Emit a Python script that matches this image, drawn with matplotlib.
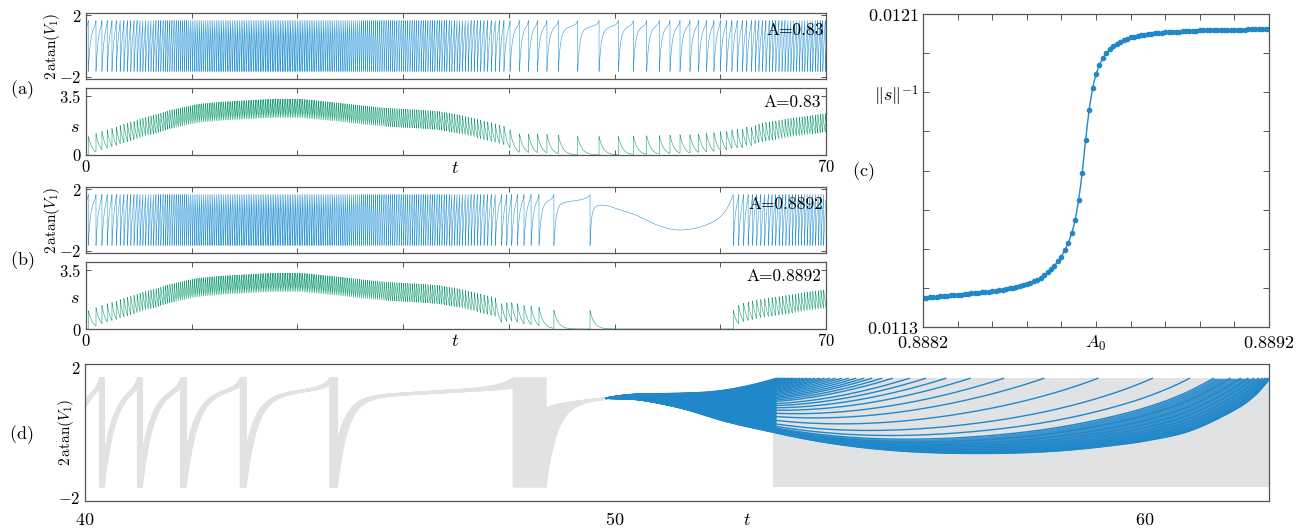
import numpy as np
import matplotlib.pyplot as plt

plt.rcParams['mathtext.fontset'] = 'cm'
plt.rcParams['font.family'] = 'serif'
plt.rcParams['font.serif'] = ['DejaVu Serif']

BLUE = '#2087c9'
LIGHT_BLUE = '#3197d6'
GREEN = '#1b9e77'
GRAY = '#e1e2e4'
SPINE = '#555555'
TOP, BOT = 1.66, -1.66          # levels of 2 atan(V1) at spike / reset

# ---------------- values ----------------
# inter-spike intervals (ISI) along the fast spiking stretch at the start
pre_t = [0.2, 1, 2, 3, 5, 7.5, 10, 12.5, 17, 20, 23.5, 28, 31, 33, 35, 36.5, 38, 39.5]
pre_isi = [0.73, 0.55, 0.45, 0.36, 0.27, 0.21, 0.18, 0.17, 0.16, 0.16, 0.175,
           0.2, 0.21, 0.22, 0.25, 0.29, 0.35, 0.45]

# (a) A = 0.83 : spike times where they can be told apart, then ISI knots
a_sparse = [40.11, 41.0, 41.85, 42.7, 43.6, 44.68, 46.51, 48.53, 50.36, 51.77,
            53.04, 54.23, 55.24, 56.19, 57.13, 57.95, 58.7, 59.4, 60.0, 60.6,
            61.1, 61.6, 62.1, 62.5]
a_post_t = [62.5, 63, 66, 70.5]
a_post_isi = [0.45, 0.35, 0.28, 0.22]

# (b) A = 0.8892
b_sparse = [39.32, 39.8, 40.27, 40.8, 41.43, 42.1, 42.85, 44.26, 47.68]
b_quiet_t = [47.68, 47.75, 47.85, 48.0, 48.3, 48.8, 49.5, 50.2, 51.2, 52.1, 53.0,
             54.0, 55.24, 56.2, 57.14, 58.0, 59.03, 59.7, 60.29, 60.8, 61.23]
b_quiet_v = [-1.66, -0.6, 0.2, 0.65, 0.9, 0.97, 0.9, 0.73, 0.52, 0.3, 0.0,
             -0.32, -0.58, -0.65, -0.6, -0.47, -0.22, 0.05, 0.42, 0.95, 1.66]
b_post_t = [61.23, 62.5, 64, 66, 68, 70.5]
b_post_isi = [0.5, 0.42, 0.36, 0.31, 0.27, 0.24]

s_jump, s_tau = 1.1, 0.4        # rise of s per spike, decay time

# (c) ||s||^{-1} against A
c_A = np.linspace(0.8882, 0.8892, 101)
c_vals = [0.011374, 0.011375, 0.011376, 0.011377, 0.011377, 0.011378, 0.011379, 0.011380,
          0.011381, 0.011382, 0.011383, 0.011383, 0.011384, 0.011385, 0.011386, 0.011387,
          0.011388, 0.011389, 0.011389, 0.011390,
          0.011392, 0.011393, 0.011395, 0.011395, 0.011397, 0.011399, 0.011400, 0.011402,
          0.011405, 0.011407,
          0.011410, 0.011413, 0.011417, 0.011421, 0.011426, 0.011432, 0.011440, 0.011448,
          0.011457, 0.011468,
          0.011480, 0.011496, 0.011515, 0.011540, 0.011574, 0.011625, 0.011693, 0.011778,
          0.011855, 0.011910,
          0.011947, 0.011970, 0.011987, 0.012000, 0.012010, 0.012017, 0.012023, 0.012029,
          0.012033, 0.012036,
          0.012040, 0.012042, 0.012044, 0.012046, 0.012047, 0.012049, 0.012050, 0.012051,
          0.012052, 0.012052,
          0.012053, 0.012054, 0.012054, 0.012055, 0.012055, 0.012056, 0.012056, 0.012057,
          0.012057, 0.012057, 0.012058, 0.012058, 0.012058, 0.012058, 0.012059, 0.012059,
          0.012059, 0.012059, 0.012060, 0.012060, 0.012060, 0.012060, 0.012060, 0.012060,
          0.012061, 0.012061, 0.012061, 0.012061, 0.012061, 0.012061, 0.012061]

# (d) grey band: spike times and their spread over the band
d_gray_spikes = [39.62, 40.30, 41.01, 41.83, 42.95, 44.64, 48.10]
d_gray_spread = [0.06, 0.06, 0.07, 0.08, 0.09, 0.12, 0.60]
d_join_t = [48.1, 48.7, 49.3, 49.85]
d_join_v = [0.80, 0.85, 0.95, 1.05]
d_dense = [53.0, 62.37]
# (d) blue fan: lower edge and the times at which each curve reaches the top
d_low_t = [49.85, 50.48, 51.28, 52.08, 52.88, 53.68, 54.48, 55.27, 56.07, 56.87,
           57.67, 58.47, 59.27, 60.07, 60.87, 61.66, 62.07, 62.37]
d_low_v = [1.05, 1.0, 0.74, 0.35, 0.05, -0.22, -0.42, -0.55, -0.62, -0.64,
           -0.62, -0.55, -0.42, -0.24, 0.06, 0.66, 1.12, 1.66]
d_fan_T = [53.05, 53.08, 53.11, 53.14, 53.17, 53.21, 53.25, 53.29, 53.34, 53.38,
           53.43, 53.49, 53.55, 53.62, 53.69, 53.77, 53.86, 53.95, 54.05, 54.16,
           54.28, 54.41, 54.55, 54.70, 54.85, 55.04, 55.24, 55.56, 55.87, 56.25,
           56.71, 57.34, 58.10, 59.12, 60.15, 60.85, 61.30, 61.61, 61.81, 61.95,
           62.06, 62.15, 62.22, 62.27, 62.31, 62.34, 62.36]


def smooth(kt, kv, n=24):
    # Catmull-Rom curve through the read points
    p = np.column_stack([kt, kv]).astype(float)
    p = np.vstack([2 * p[0] - p[1], p, 2 * p[-1] - p[-2]])
    u = np.linspace(0, 1, n, endpoint=False)[:, None]
    out = []
    for i in range(1, len(p) - 2):
        p0, p1, p2, p3 = p[i - 1], p[i], p[i + 1], p[i + 2]
        out.append(0.5 * (2 * p1 + (-p0 + p2) * u + (2 * p0 - 5 * p1 + 4 * p2 - p3) * u ** 2
                          + (-p0 + 3 * p1 - 3 * p2 + p3) * u ** 3))
    out.append(p[-2][None, :])
    out = np.vstack(out)
    return out[:, 0], out[:, 1]


def gen_spikes(t_first, t_stop, kt, kisi):
    out = [t_first]
    while True:
        nxt = out[-1] + np.interp(out[-1], kt, kisi)
        if nxt >= t_stop:
            return out
        out.append(nxt)


def rise(u, dur):
    g = 1 - np.exp(-u * dur / 0.2)
    g = g / g[-1]
    f = 0.82 * g + 0.10 * u + 0.08 * u ** 12
    return BOT + (TOP - BOT) * f


def v_trace(spikes):
    ts, vs = [], []
    for ta, tb in zip(spikes[:-1], spikes[1:]):
        n = max(8, int((tb - ta) / 0.004))
        u = np.linspace(0, 1, n)
        ts.append(ta + u * (tb - ta))
        vs.append(rise(u, tb - ta))
    return np.concatenate(ts), np.concatenate(vs)


def s_trace(spikes, t_end):
    spikes = [t for t in spikes if t >= 0]
    ts, vs = [np.array([0.0])], [np.array([0.0])]
    s = 0.0
    for k, tk in enumerate(spikes):
        tn = spikes[k + 1] if k + 1 < len(spikes) else t_end
        t = np.linspace(tk, tn, max(8, int((tn - tk) / 0.004)))
        seg = (s + s_jump) * np.exp(-(t - tk) / s_tau)
        ts += [np.array([tk]), t]
        vs += [np.array([s]), seg]
        s = seg[-1]
    return np.concatenate(ts), np.concatenate(vs)


# ---------------- build traces ----------------
a_pre = gen_spikes(-0.51, a_sparse[0] - 0.35, pre_t, pre_isi)
a_post = gen_spikes(a_sparse[-1], 71, a_post_t, a_post_isi)
a_spikes = a_pre + a_sparse + a_post[1:]
aV_t, aV_v = v_trace(a_spikes)
aS_t, aS_v = s_trace(a_spikes, 70)

b_pre = gen_spikes(-0.51, b_sparse[0] - 0.3, pre_t, pre_isi)
b_post = gen_spikes(b_quiet_t[-1], 71, b_post_t, b_post_isi)
t1, v1 = v_trace(b_pre + b_sparse)
qt, qv = smooth(b_quiet_t, b_quiet_v)
t2, v2 = v_trace(b_post)
bV_t = np.concatenate([t1, qt, t2])
bV_v = np.concatenate([v1, qv, v2])
bS_t, bS_v = s_trace(b_pre + b_sparse + b_post, 70)

# ---------------- figure ----------------
W, H = 1303, 531
fig = plt.figure(figsize=(W / 100, H / 100), dpi=100)


def box(l, t, r, b):
    return fig.add_axes([l / W, 1 - b / H, (r - l) / W, (b - t) / H])


def ftext(x, y, s, **kw):
    fig.text(x / W, 1 - y / H, s, ha='center', va='center', **kw)


def style(ax, length=3.5):
    for sp in ax.spines.values():
        sp.set_color(SPINE)
        sp.set_linewidth(0.9)
    ax.tick_params(direction='in', top=True, right=True, length=length, width=0.7,
                   color=SPINE, labelsize=12, pad=3)


def top_panel(ax, show_x):
    ax.set_xlim(0, 70)
    ax.set_xticks(range(0, 71, 10))
    if show_x:
        ax.set_xticklabels(['$0$'] + [''] * 6 + ['$70$'])
    else:
        ax.set_xticklabels([])
    style(ax)


for (t, v, s_t, s_v, y0, lab) in [(aV_t, aV_v, aS_t, aS_v, 13, '0.83'),
                                  (bV_t, bV_v, bS_t, bS_v, 187, '0.8892')]:
    axv = box(86, y0, 826, y0 + 66)
    axv.plot(t, v, color=LIGHT_BLUE, lw=0.4)
    axv.set_ylim(-2.15, 2.15)
    axv.set_yticks([-2, 2])
    axv.set_yticklabels(['$-2$', '$2$'])
    top_panel(axv, False)
    axv.text(0.997, 0.74, 'A=' + lab, transform=axv.transAxes, family='cmr10',
             ha='right', va='center', fontsize=12.5)

    axs = box(86, y0 + 75, 826, y0 + 142)
    axs.plot(s_t, s_v, color=GREEN, lw=0.4)
    axs.set_ylim(0, 4)
    axs.set_yticks([0, 3.5])
    axs.set_yticklabels(['$0$', '$3.5$'])
    top_panel(axs, True)
    axs.text(0.993, 0.78, 'A=' + lab, transform=axs.transAxes, family='cmr10',
             ha='right', va='center', fontsize=12.5)

ftext(52, 46, r'$2\,\mathrm{atan}(V_1)$', rotation=90, fontsize=11)
ftext(52, 220, r'$2\,\mathrm{atan}(V_1)$', rotation=90, fontsize=11)
ftext(75, 127, '$s$', fontsize=13)
ftext(75, 298, '$s$', fontsize=13)
ftext(455, 168, '$t$', fontsize=13)
ftext(455, 341, '$t$', fontsize=13)
ftext(22, 90, r'$\mathrm{(a)}$', fontsize=13)
ftext(22, 261, r'$\mathrm{(b)}$', fontsize=13)

# (c)
axc = box(923, 14, 1269, 327)
axc.plot(c_A, c_vals, color=BLUE, lw=1.0, marker='o', ms=3)
axc.set_xlim(0.8882, 0.8892)
axc.set_ylim(0.0113, 0.0121)
axc.set_xticks(np.linspace(0.8882, 0.8892, 11))
axc.set_xticklabels(['$0.8882$', '', '', '', '', '$A_0$', '', '', '', '', '$0.8892$'])
axc.set_yticks(np.linspace(0.0113, 0.0121, 9))
axc.set_yticklabels(['$0.0113$', '', '', '', '', '', r'$\|s\|^{-1}$', '', '$0.0121$'])
style(axc, 4)
axc.tick_params(labelsize=13)
axc.tick_params(axis='x', pad=5)
ftext(863, 172, r'$\mathrm{(c)}$', fontsize=13)

# (d)
axd = box(84.5, 364, 1269, 501)
axd.fill_between(d_dense, BOT, TOP, color=GRAY, lw=0, zorder=1)
N = 25
for j in range(N):
    q = j / (N - 1)
    sp = [t + q * d for t, d in zip(d_gray_spikes, d_gray_spread)]
    gt, gv = v_trace(sp)
    tj = np.linspace(sp[-1], d_join_t[-1], 120)
    cj = np.interp(tj, d_join_t, d_join_v)
    vj = cj - (cj - BOT) * np.exp(-(tj - sp[-1]) / 0.2)
    axd.plot(np.concatenate([gt, tj]), np.concatenate([gv, vj]), color=GRAY,
             lw=1.6, zorder=1)

lt, lv = smooth(d_low_t, d_low_v)
t0, t_end = d_low_t[0], d_low_t[-1]


def E(t):
    return 1 / (t_end - t) - 1 / (t_end - t0)


def fan_curve(T, n=400):
    t = np.linspace(t0, T, n)
    low = np.interp(t, lt, lv)
    frac = (E(t) / E(T)) ** 0.7
    return t, low + (TOP - low) * frac


# solid parts of the fan
tu, yu = fan_curve(d_fan_T[0])
axd.fill_between(tu, np.interp(tu, lt, lv), yu, color=BLUE, lw=0, zorder=2)
tb_, yb_ = fan_curve(61.30)
tt = np.concatenate([tb_, np.linspace(61.31, t_end, 30)])
yy = np.concatenate([yb_, np.full(30, TOP)])
axd.fill_between(tt, np.interp(tt, lt, lv), yy, color=BLUE, lw=0,
                 alpha=0.85, zorder=2)
for T in d_fan_T:
    tc, yc = fan_curve(T)
    axd.plot(tc, yc, color=BLUE, lw=1.0, zorder=3)
axd.plot(lt, lv, color=BLUE, lw=1.2, zorder=3)

axd.set_xlim(40, 62.35)
axd.set_ylim(-2.1, 2.1)
axd.set_xticks([40, 50, 52.5, 60])
axd.set_xticklabels(['$40$', '$50$', '$t$', '$60$'])
axd.set_yticks([-2, 2])
axd.set_yticklabels(['$-2$', '$2$'])
style(axd, 0)
axd.tick_params(axis='x', pad=7, labelsize=13)
ftext(66, 432, r'$2\,\mathrm{atan}(V_1)$', rotation=90, fontsize=11)
ftext(21, 435, r'$\mathrm{(d)}$', fontsize=13)

fig.savefig('out.png', dpi=100)
